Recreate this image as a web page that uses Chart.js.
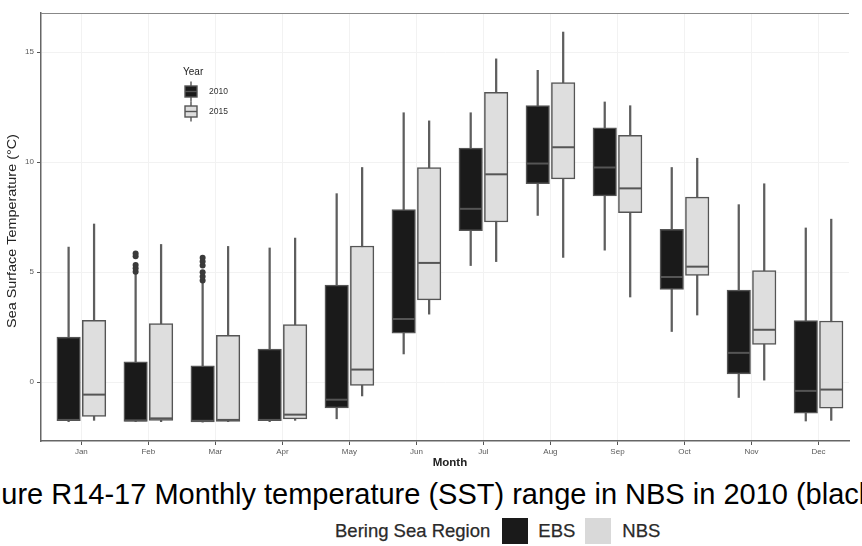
<!DOCTYPE html>
<html>
<head>
<meta charset="utf-8">
<script src="https://cdn.jsdelivr.net/npm/chart.js@4"></script>
<style>
  html, body { margin: 0; padding: 0; background: #fff; }
  #page { position: relative; width: 862px; height: 546px; overflow: hidden; font-family: "Liberation Sans", Arial, sans-serif; }
  #chart { position: absolute; left: 0; top: 0; }
  #caption { position: absolute; left: -39px; top: 480px; font-size: 29px; line-height: 29px; color: #000; white-space: nowrap; }
  #key { position: absolute; left: 335px; top: 518px; height: 26px; display: flex; align-items: center; font-size: 18.5px; color: #2a2a2a; -webkit-text-stroke: 0.25px #2a2a2a; white-space: nowrap; }
  #key .sw { width: 26px; height: 26px; display: inline-block; }
</style>
</head>
<body>
<div id="page">
  <canvas id="chart" width="862" height="470"></canvas>
  <div id="caption">Figure R14-17 Monthly temperature (SST) range in NBS in 2010 (black</div>
  <div id="key">
    <span>Bering Sea Region</span>
    <span class="sw" style="background:#1a1a1a;margin-left:12px"></span>
    <span style="margin-left:10px">EBS</span>
    <span class="sw" style="background:#d9d9d9;margin-left:10px"></span>
    <span style="margin-left:11px">NBS</span>
  </div>
</div>
<script>
const months = ['Jan', 'Feb', 'Mar', 'Apr', 'May', 'Jun', 'Jul', 'Aug', 'Sep', 'Oct', 'Nov', 'Dec'];
const yTicks = [0, 5, 10, 15];

// EBS (2010) box statistics, degrees C
const ebsMin = [-1.80, -1.80, -1.82, -1.80, -1.67, 1.28, 5.30, 7.58, 6.00, 2.30, -0.70, -1.77];
const ebsQ1  = [-1.76, -1.79, -1.81, -1.76, -1.18, 2.22, 6.89, 9.02, 8.47, 4.22, 0.37, -1.41];
const ebsMed = [-1.72, -1.74, -1.76, -1.72, -0.80, 2.87, 7.88, 9.94, 9.76, 4.78, 1.33, -0.40];
const ebsQ3  = [2.05, 0.92, 0.74, 1.50, 4.41, 7.85, 10.64, 12.57, 11.56, 6.95, 4.18, 2.80];
const ebsMax = [6.14, 4.92, 4.50, 6.10, 8.57, 12.25, 12.25, 14.18, 12.74, 9.76, 8.07, 7.01];
const ebsOutliers = [[], [5.02, 5.18, 5.32, 5.72, 5.85], [4.62, 4.80, 5.00, 5.30, 5.48, 5.66], [], [], [], [], [], [], [], [], []];

// NBS (2015) box statistics, degrees C
const nbsMin = [-1.74, -1.80, -1.80, -1.74, -0.63, 3.09, 5.48, 5.67, 3.87, 3.05, 0.09, -1.74];
const nbsQ1  = [-1.56, -1.74, -1.79, -1.67, -0.15, 3.74, 7.28, 9.24, 7.71, 4.85, 1.71, -1.19];
const nbsMed = [-0.57, -1.65, -1.72, -1.48, 0.57, 5.42, 9.45, 10.68, 8.81, 5.25, 2.38, -0.34];
const nbsQ3  = [2.81, 2.66, 2.13, 2.62, 6.19, 9.76, 13.18, 13.62, 11.22, 8.41, 5.07, 2.78];
const nbsMax = [7.19, 6.26, 6.17, 6.55, 9.76, 11.88, 14.70, 15.92, 12.57, 10.18, 9.02, 7.41];

const shift = 0.19;     // dodge of each box from the month tick
const boxWidth = 23.5;

function ranges(lo, hi, dx) {
  return lo.map((v, i) => ({ x: i + dx, y: [v, hi[i]] }));
}
function points(vals, dx) {
  return vals.map((v, i) => ({ x: i + dx, y: v }));
}

function keyIcon(ctx, cx, cy, fill) {
  ctx.strokeStyle = '#555';
  ctx.lineWidth = 1.4;
  ctx.beginPath(); ctx.moveTo(cx, cy - 10); ctx.lineTo(cx, cy + 10); ctx.stroke();
  ctx.fillStyle = fill;
  ctx.fillRect(cx - 6, cy - 5.5, 12, 11);
  ctx.strokeRect(cx - 6, cy - 5.5, 12, 11);
  ctx.beginPath(); ctx.moveTo(cx - 6, cy); ctx.lineTo(cx + 6, cy); ctx.stroke();
}

// panel top edge, axis titles and the Year key
const decor = {
  id: 'decor',
  afterDraw(chart) {
    const { ctx, chartArea: a, scales: { x } } = chart;
    ctx.save();
    ctx.strokeStyle = '#888';
    ctx.lineWidth = 1.2;
    ctx.beginPath(); ctx.moveTo(a.left, a.top + 0.5); ctx.lineTo(a.right, a.top + 0.5); ctx.stroke();

    ctx.fillStyle = '#222';
    ctx.textAlign = 'center';
    ctx.textBaseline = 'middle';
    ctx.font = 'bold 11.5px "Liberation Sans"';
    ctx.fillText('Month', x.getPixelForValue(5.5), 463);

    ctx.save();
    ctx.translate(12.5, 231);
    ctx.rotate(-Math.PI / 2);
    ctx.scale(1.2, 1);
    ctx.font = '12px "Liberation Sans"';
    ctx.fillText('Sea Surface Temperature (°C)', 0, 0);
    ctx.restore();

    ctx.textAlign = 'left';
    ctx.font = '10px "Liberation Sans"';
    ctx.fillText('Year', 183, 72);
    keyIcon(ctx, 191, 91.5, '#1a1a1a');
    keyIcon(ctx, 191, 111.5, '#dedede');
    ctx.fillStyle = '#333';
    ctx.font = '8.5px "Liberation Sans"';
    ctx.fillText('2010', 209, 92);
    ctx.fillText('2015', 209, 112);
    ctx.restore();
  }
};

const tickFont = { family: 'Liberation Sans', size: 8 };

new Chart(document.getElementById('chart'), {
  type: 'bar',
  data: {
    datasets: [
      { label: 'EBS whisker', data: ranges(ebsMin, ebsMax, -shift), backgroundColor: '#5e5e5e',
        barThickness: 1.6, grouped: false, order: 4 },
      { label: 'NBS whisker', data: ranges(nbsMin, nbsMax, shift), backgroundColor: '#5e5e5e',
        barThickness: 1.6, grouped: false, order: 4 },
      { label: 'EBS', data: ranges(ebsQ1, ebsQ3, -shift), backgroundColor: '#1a1a1a',
        borderColor: '#555', borderWidth: 1.5, borderSkipped: false,
        barThickness: boxWidth, grouped: false, order: 3 },
      { label: 'NBS', data: ranges(nbsQ1, nbsQ3, shift), backgroundColor: '#dedede',
        borderColor: '#555', borderWidth: 1.5, borderSkipped: false,
        barThickness: boxWidth, grouped: false, order: 3 },
      { type: 'scatter', label: 'EBS median', data: points(ebsMed, -shift), pointStyle: 'line',
        radius: 11, borderColor: '#555', borderWidth: 2, order: 2 },
      { type: 'scatter', label: 'NBS median', data: points(nbsMed, shift), pointStyle: 'line',
        radius: 11, borderColor: '#555', borderWidth: 2, order: 2 },
      { type: 'scatter', label: 'EBS outliers',
        data: ebsOutliers.flatMap((vals, i) => vals.map(v => ({ x: i - shift, y: v }))),
        pointStyle: 'circle', radius: 3, backgroundColor: '#3a3a3a', borderWidth: 0, order: 1 }
    ]
  },
  options: {
    responsive: false,
    animation: false,
    events: [],
    layout: { padding: { top: 5, right: 0, bottom: 0, left: 0 } },
    plugins: { legend: { display: false }, tooltip: { enabled: false } },
    scales: {
      x: {
        type: 'linear', min: -0.602, max: 11.455, offset: false,
        afterBuildTicks: s => { s.ticks = months.map((m, i) => ({ value: i })); },
        afterFit: s => { s.height = 29; },
        grid: { offset: false, color: '#f2f2f2', lineWidth: 1, tickColor: '#555', tickLength: 4, tickWidth: 1 },
        border: { color: '#666', width: 1.5 },
        ticks: { callback: v => months[v], color: '#5a5a5a', font: tickFont, padding: 2, maxRotation: 0, autoSkip: false }
      },
      y: {
        min: -2.679, max: 16.786, beginAtZero: false,
        afterBuildTicks: s => { s.ticks = yTicks.map(v => ({ value: v })); },
        afterFit: s => { s.width = 41; },
        grid: { color: '#f2f2f2', lineWidth: 1, tickColor: '#555', tickLength: 4, tickWidth: 1 },
        border: { color: '#666', width: 1.5 },
        ticks: { color: '#5a5a5a', font: tickFont, padding: 3 }
      }
    }
  },
  plugins: [decor]
});
</script>
</body>
</html>
